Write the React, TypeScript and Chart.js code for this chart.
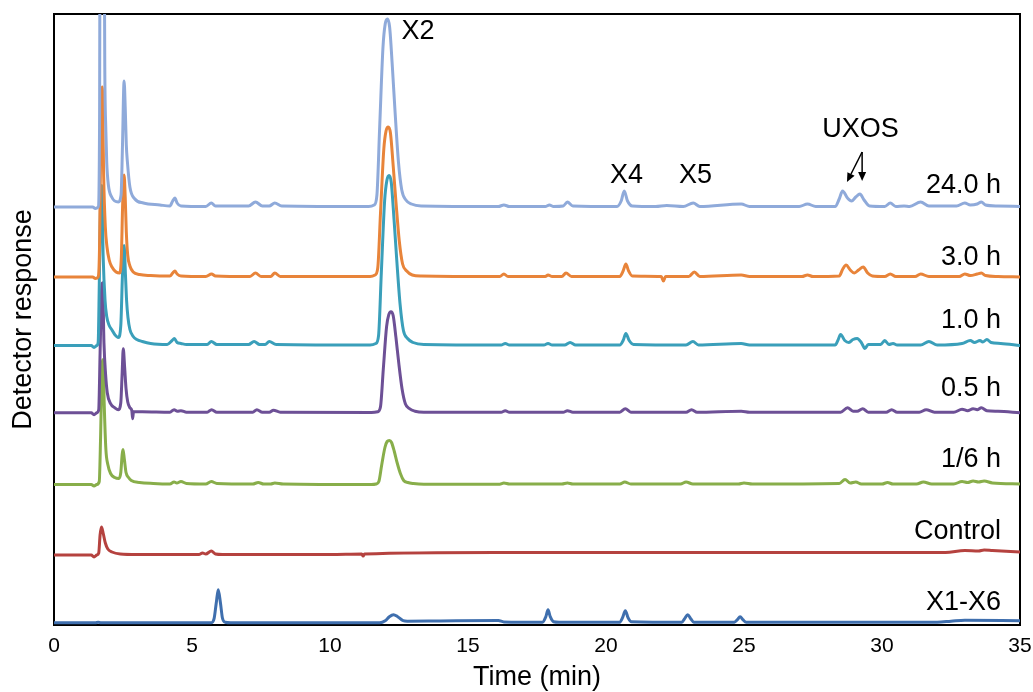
import React, { useEffect, useRef } from 'react';
import { Chart, registerables } from 'chart.js';

Chart.register(...registerables);

const FONT = '"Liberation Sans", Arial, sans-serif';

// Series (top to bottom)
const seriesLabels = ['24.0 h', '3.0 h', '1.0 h', '0.5 h', '1/6 h', 'Control', 'X1-X6'];
const seriesColors = ['#8FAADA', '#E8843A', '#3A9FBA', '#6D5096', '#88AE4A', '#B5423F', '#3F6FAE'];
// vertical stacking offsets of each trace (detector units)
const seriesOffsets = [418, 348, 279.5, 212.3, 140.5, 70, 2.3];
// series label positions (time, response)
const seriesLabelTime = 34.31;
const seriesLabelValues = [432, 360, 297, 229, 158, 86, 15];

// x-axis
const xMin = 0;
const xMax = 35;
const xStep = 5;
const yMin = 0;
const yMax = 611;

// Peak annotations
const peakNames = ['X2', 'X4', 'X5', 'UXOS'];
const peakNameTimes = [13.19, 20.74, 23.24, 29.22];
const peakNameValues = [586, 442, 442, 488];
const arrowFrom = [29.28, 473];
const arrowTargets = [[28.73, 443], [29.28, 444]];

// Traces: [time (min), signal]
const trace24h = [
  [0, 0], [1.4, 0], [1.5, -1.5], [1.6, 0], [1.65, 80], [1.68, 450], [1.79, 450], [1.84, 140], [1.88, 75],
  [1.91, 45], [1.97, 22], [2.09, 10], [2.33, 5], [2.43, 12], [2.48, 60], [2.54, 126], [2.58, 100],
  [2.62, 62], [2.66, 45], [2.75, 20], [2.93, 8], [3.24, 4], [3.84, 2], [4.2, 1], [4.3, 6], [4.38, 9],
  [4.46, 4], [4.6, 1], [5.5, 0.5], [5.7, 4], [5.85, 1], [7.05, 1], [7.3, 5], [7.55, 1], [7.8, 1], [8.0, 4],
  [8.25, 1], [11.4, 0.5], [11.6, 2], [11.7, 12], [11.8, 80], [11.92, 160], [12.0, 183], [12.08, 188],
  [12.16, 180], [12.26, 140], [12.36, 94], [12.48, 45], [12.6, 17], [12.75, 7], [12.95, 3], [13.3, 1],
  [16.1, 0.5], [16.3, 2], [16.5, 0.5], [17.8, 0.5], [17.95, 2], [18.1, 0.5], [18.45, 1], [18.6, 5],
  [18.8, 1], [20.4, 0.5], [20.55, 6], [20.66, 16], [20.78, 6], [20.95, 1], [21.8, 0.5], [22.2, 1.5],
  [22.8, 0.5], [23.16, 4], [23.4, 0.5], [24.9, 3], [25.2, 0.5], [27.0, 0.5], [27.3, 3], [27.6, 0.5],
  [28.3, 0.5], [28.45, 8], [28.57, 16], [28.75, 9], [28.9, 6], [29.05, 10], [29.2, 13], [29.35, 7],
  [29.55, 1], [30.1, 0.5], [30.3, 4], [30.5, 0.5], [30.8, 1], [31.0, 0.5], [31.4, 5], [31.7, 1],
  [32.7, 1], [33.0, 4], [33.2, 2], [33.45, 3], [33.6, 5], [33.75, 2], [34.2, 1], [35, 0.5],
];

const trace3h = [
  [0, 0], [1.4, 0], [1.5, -1.5], [1.6, 0], [1.65, 30], [1.7, 150], [1.75, 190], [1.8, 100], [1.86, 50],
  [1.92, 30], [2.0, 17], [2.1, 10], [2.25, 5], [2.38, 4], [2.44, 20], [2.49, 75], [2.54, 102], [2.58, 80],
  [2.62, 45], [2.67, 22], [2.75, 11], [2.87, 5], [3.1, 2.5], [3.5, 1.5], [4.2, 1], [4.3, 4], [4.38, 6],
  [4.46, 3], [4.6, 1], [5.5, 0.5], [5.71, 3], [5.85, 1], [7.1, 0.5], [7.3, 4], [7.5, 0.5], [7.85, 0.5],
  [8.0, 4], [8.2, 0.5], [11.45, 0.5], [11.63, 2], [11.73, 9], [11.83, 64], [11.95, 128], [12.03, 146],
  [12.11, 150], [12.19, 144], [12.29, 111], [12.39, 75], [12.51, 36], [12.63, 13], [12.78, 6], [12.98, 2],
  [13.3, 1], [16.15, 0.5], [16.3, 3], [16.45, 0.5], [17.8, 0.5], [17.9, 2], [18.05, 0.5], [18.4, 0.5],
  [18.55, 4], [18.75, 0.5], [20.5, 0.5], [20.62, 6], [20.72, 13], [20.82, 6], [20.95, 1], [22.0, 0.5],
  [22.08, -4], [22.16, 0.5], [23.0, 0.5], [23.2, 5], [23.4, 0.5], [24.9, 2], [25.2, 0.5], [27.1, 0.5],
  [27.3, 2], [27.5, 0.5], [28.45, 1], [28.58, 8], [28.7, 12], [28.85, 7], [29.0, 4], [29.15, 7],
  [29.32, 10], [29.48, 4], [29.65, 1], [30.1, 0.5], [30.3, 3], [30.5, 0.5], [31.2, 0.5], [31.4, 3],
  [31.7, 0.5], [32.8, 0.5], [33.0, 3], [33.2, 1.5], [33.45, 3], [33.6, 4], [33.75, 1.5], [34.2, 0.5], [35, 0],
];

const trace1h = [
  [0, 0], [1.35, 0], [1.45, -2], [1.55, 0], [1.6, 3], [1.64, 60], [1.69, 150], [1.73, 160], [1.78, 90],
  [1.85, 45], [1.91, 29], [2.0, 20], [2.09, 16], [2.2, 11], [2.33, 8], [2.42, 20], [2.48, 70], [2.54, 100],
  [2.59, 70], [2.63, 45], [2.68, 28], [2.75, 16], [2.87, 9], [3.0, 6], [3.2, 4], [3.5, 2], [4.1, 1],
  [4.28, 5], [4.36, 7], [4.46, 3], [4.6, 2], [4.8, 1], [5.55, 1], [5.7, 4], [5.9, 1], [7.05, 1], [7.25, 4],
  [7.45, 1], [7.65, 1], [7.8, 4], [8.05, 1], [11.45, 0.5], [11.66, 2], [11.76, 10], [11.86, 73],
  [11.98, 145], [12.06, 165], [12.14, 170], [12.22, 163], [12.32, 126], [12.42, 85], [12.54, 41],
  [12.66, 15], [12.81, 7], [13.01, 3], [13.4, 1], [16.2, 0.5], [16.35, 2], [16.5, 0.5], [17.75, 0.5],
  [17.9, 2], [18.05, 0.5], [18.5, 0.5], [18.7, 3], [18.9, 0.5], [20.5, 0.5], [20.62, 5], [20.72, 12],
  [20.84, 5], [21.0, 1], [22.9, 0.5], [23.15, 4], [23.35, 0.5], [24.9, 2], [25.2, 0.5], [28.3, 0.5],
  [28.4, 5], [28.5, 11], [28.65, 5], [28.8, 3], [28.95, 6], [29.1, 7], [29.25, 3], [29.38, -3], [29.5, 1],
  [29.95, 1], [30.1, 5], [30.25, 1], [30.4, 2], [30.55, 0.5], [31.4, 0.5], [31.7, 4], [32.0, 0.5],
  [32.9, 2], [33.2, 5], [33.35, 3], [33.55, 5], [33.65, 3.5], [33.8, 6], [33.95, 3], [34.3, 2], [35, 0],
];

const trace05h = [
  [0, 0], [1.35, 0], [1.45, -2], [1.55, 0], [1.62, 3], [1.67, 60], [1.72, 120], [1.76, 130], [1.81, 70],
  [1.87, 38], [1.93, 20], [2.05, 9], [2.2, 5], [2.33, 3], [2.42, 10], [2.47, 40], [2.51, 64], [2.56, 45],
  [2.61, 24], [2.67, 11], [2.75, 5], [2.82, 2], [2.85, -6], [2.88, 1], [3.2, 1], [4.2, 0.5], [4.35, 3],
  [4.47, 1.5], [4.6, 2], [4.8, 0.5], [5.55, 0.5], [5.71, 3], [5.9, 0.5], [7.2, 0.5], [7.35, 3], [7.55, 0.5],
  [7.8, 0.5], [7.95, 2.5], [8.2, 0.5], [11.5, 0.3], [11.73, 1], [11.83, 6], [11.93, 43], [12.05, 86],
  [12.13, 98], [12.21, 101], [12.29, 97], [12.39, 75], [12.49, 50], [12.61, 24], [12.73, 9], [12.88, 4],
  [13.08, 1.5], [13.4, 0.5], [16.2, 0.5], [16.35, 2], [16.5, 0.5], [18.45, 0.5], [18.6, 2], [18.8, 0.5],
  [20.5, 0.5], [20.7, 4], [20.9, 0.5], [22.9, 0.5], [23.1, 3], [23.3, 0.5], [24.9, 1.5], [25.2, 0.5],
  [28.5, 0.5], [28.75, 5], [28.95, 1.5], [29.1, 1.5], [29.3, 4], [29.5, 0.5], [30.15, 0.5], [30.35, 3],
  [30.55, 0.5], [31.35, 0.5], [31.6, 3], [31.9, 0.5], [32.6, 0.5], [32.9, 3.5], [33.1, 2], [33.3, 4],
  [33.45, 3], [33.6, 5], [33.8, 2], [34.2, 1.5], [35, 0],
];

const trace16h = [
  [0, 0], [1.35, 0], [1.45, -1.5], [1.55, 0], [1.64, 3], [1.69, 50], [1.74, 115], [1.78, 125], [1.82, 80],
  [1.88, 35], [1.95, 20], [2.05, 11], [2.2, 7], [2.35, 6], [2.42, 12], [2.47, 30], [2.5, 35], [2.55, 25],
  [2.61, 12], [2.7, 7], [2.8, 4], [3.1, 2], [3.6, 1], [4.2, 0.5], [4.35, 2.5], [4.45, 1.5], [4.6, 3],
  [4.8, 1], [5.5, 0.5], [5.7, 3], [5.9, 1], [7.2, 0.5], [7.4, 2], [7.6, 0.5], [7.85, 0.5], [8.0, 1.5],
  [8.3, 0.5], [11.5, 0], [11.67, 0.5], [11.77, 3], [11.87, 19], [11.99, 37], [12.07, 43], [12.15, 44],
  [12.23, 42], [12.33, 33], [12.43, 22], [12.55, 11], [12.67, 4], [12.82, 2], [13.02, 1], [13.4, 0.3],
  [16.15, 0.3], [16.3, 1.5], [16.5, 0.5], [18.4, 0.5], [18.6, 1.5], [18.8, 0.5], [20.5, 0.5], [20.68, 2.5],
  [20.9, 0.5], [22.7, 0.5], [22.9, 2.5], [23.15, 0.5], [24.8, 0.5], [25.0, 1.5], [25.3, 0.5], [28.45, 1],
  [28.66, 5], [28.85, 1.5], [29.05, 2.5], [29.25, 0.5], [30.0, 0.5], [30.2, 2], [30.4, 0.5], [31.25, 0.5],
  [31.5, 2.5], [31.8, 0.5], [32.6, 0.5], [32.9, 3], [33.1, 2], [33.3, 3.5], [33.5, 2.5], [33.7, 3.5],
  [34.0, 1.5], [35, 0.5],
];

const traceControl = [
  [0, 0], [1.35, 0], [1.45, -2], [1.55, 0], [1.62, 2], [1.67, 20], [1.72, 28], [1.78, 22], [1.86, 12],
  [1.95, 6], [2.1, 3], [2.4, 1], [3.0, 0.5], [5.25, 0.5], [5.38, 2], [5.5, 1], [5.7, 4], [5.85, 1],
  [6.1, 0.5], [10.0, 0.5], [11.15, 1], [11.2, -1], [11.25, 1], [16.0, 2.5], [20, 2.5], [25, 2.5],
  [30, 2.5], [32.3, 2.5], [33.0, 4.5], [33.5, 4], [33.7, 5], [34, 4.5], [35, 3],
];

const traceStandards = [
  [0, 0], [1.5, 0], [1.6, 0.5], [1.7, 0], [5.7, 0], [5.8, 4], [5.88, 20], [5.95, 33], [6.03, 20], [6.1, 5],
  [6.2, 0.5], [6.4, 0], [11.8, 0], [12.0, 2], [12.15, 6], [12.3, 8], [12.45, 6], [12.65, 2], [12.8, 1.5],
  [14, 1.8], [16.1, 2.2], [16.3, 0.8], [17.7, 0.5], [17.82, 6], [17.9, 13], [17.98, 6], [18.1, 1],
  [18.3, 0.5], [20.5, 0.5], [20.6, 5], [20.7, 12], [20.8, 5], [20.92, 1], [22.75, 0.5], [22.85, 4],
  [22.96, 8], [23.07, 4], [23.18, 0.5], [24.65, 0.5], [24.76, 3], [24.86, 6], [24.96, 3], [25.08, 0.5],
  [32, 0.5], [32.5, 1.5], [33, 2.5], [35, 2],
];

const traces = [trace24h, trace3h, trace1h, trace05h, trace16h, traceControl, traceStandards];

function drawArrow(ctx: CanvasRenderingContext2D, x0: number, y0: number, x1: number, y1: number) {
  const ang = Math.atan2(y1 - y0, x1 - x0);
  const len = 9;
  const hw = 4;
  const bx = x1 - len * Math.cos(ang);
  const by = y1 - len * Math.sin(ang);
  ctx.beginPath();
  ctx.moveTo(x0, y0);
  ctx.lineTo(bx, by);
  ctx.stroke();
  ctx.beginPath();
  ctx.moveTo(x1, y1);
  ctx.lineTo(bx + hw * Math.sin(ang), by - hw * Math.cos(ang));
  ctx.lineTo(bx - hw * Math.sin(ang), by + hw * Math.cos(ang));
  ctx.closePath();
  ctx.fill();
}

const overlayPlugin = {
  id: 'overlay',
  beforeDatasetsDraw(chart: any) {
    const { ctx, chartArea } = chart;
    ctx.save();
    ctx.strokeStyle = '#000';
    ctx.lineWidth = 2;
    ctx.strokeRect(chartArea.left, chartArea.top, chartArea.right - chartArea.left, chartArea.bottom - chartArea.top);
    ctx.restore();
  },
  afterDatasetsDraw(chart: any) {
    const { ctx } = chart;
    const x = chart.scales.x;
    const y = chart.scales.y;
    ctx.save();
    ctx.fillStyle = '#000';
    ctx.strokeStyle = '#000';
    ctx.font = `27px ${FONT}`;
    ctx.textBaseline = 'alphabetic';
    ctx.textAlign = 'right';
    seriesLabels.forEach((s, i) => {
      ctx.fillText(s, x.getPixelForValue(seriesLabelTime), y.getPixelForValue(seriesLabelValues[i]));
    });
    ctx.textAlign = 'center';
    peakNames.forEach((s, i) => {
      ctx.fillText(s, x.getPixelForValue(peakNameTimes[i]), y.getPixelForValue(peakNameValues[i]));
    });
    ctx.lineWidth = 1.5;
    const x0 = x.getPixelForValue(arrowFrom[0]);
    const y0 = y.getPixelForValue(arrowFrom[1]);
    arrowTargets.forEach(([t, v]) => {
      drawArrow(ctx, x0, y0, x.getPixelForValue(t), y.getPixelForValue(v));
    });
    ctx.restore();
  },
};

export default function App() {
  const ref = useRef<HTMLCanvasElement | null>(null);
  useEffect(() => {
    if (!ref.current) return;
    Chart.defaults.font.family = FONT;
    Chart.defaults.color = '#000';
    const chart = new Chart(ref.current, {
      type: 'line',
      data: {
        datasets: traces.map((tr, i) => ({
          label: seriesLabels[i],
          data: tr.map(([t, v]) => ({ x: t, y: v + seriesOffsets[i] })),
          borderColor: seriesColors[i],
          backgroundColor: seriesColors[i],
          borderWidth: 3,
          pointRadius: 0,
          fill: false,
          cubicInterpolationMode: 'monotone' as const,
          borderJoinStyle: 'round' as const,
          borderCapStyle: 'round' as const,
        })),
      },
      options: {
        animation: false,
        responsive: false,
        layout: { padding: { top: 14, right: 13, left: 0, bottom: 0 } },
        plugins: { legend: { display: false }, tooltip: { enabled: false } },
        scales: {
          x: {
            type: 'linear',
            min: xMin,
            max: xMax,
            ticks: { stepSize: xStep, padding: 9, color: '#000', font: { size: 21 } },
            grid: { display: false, drawTicks: false },
            border: { display: false },
            title: {
              display: true,
              text: 'Time (min)',
              color: '#000',
              font: { size: 27, lineHeight: 1 },
              padding: { top: 0, bottom: 1 },
            },
            afterFit: (s: any) => { s.height = 67; s.paddingLeft = 0; s.paddingRight = 0; },
          },
          y: {
            type: 'linear',
            min: yMin,
            max: yMax,
            ticks: { display: false },
            grid: { display: false, drawTicks: false },
            border: { display: false },
            title: {
              display: true,
              text: 'Detector response',
              color: '#000',
              font: { size: 27, lineHeight: 1.2 },
              padding: { top: 7, bottom: 0 },
            },
            afterFit: (s: any) => { s.width = 54; s.paddingTop = 0; s.paddingBottom = 0; },
          },
        },
      },
      plugins: [overlayPlugin],
    });
    return () => chart.destroy();
  }, []);
  return (
    <div style={{ position: 'absolute', left: 0, top: 0, width: 1033, height: 692 }}>
      <canvas ref={ref} width={1033} height={692} style={{ display: 'block' }} />
    </div>
  );
}
